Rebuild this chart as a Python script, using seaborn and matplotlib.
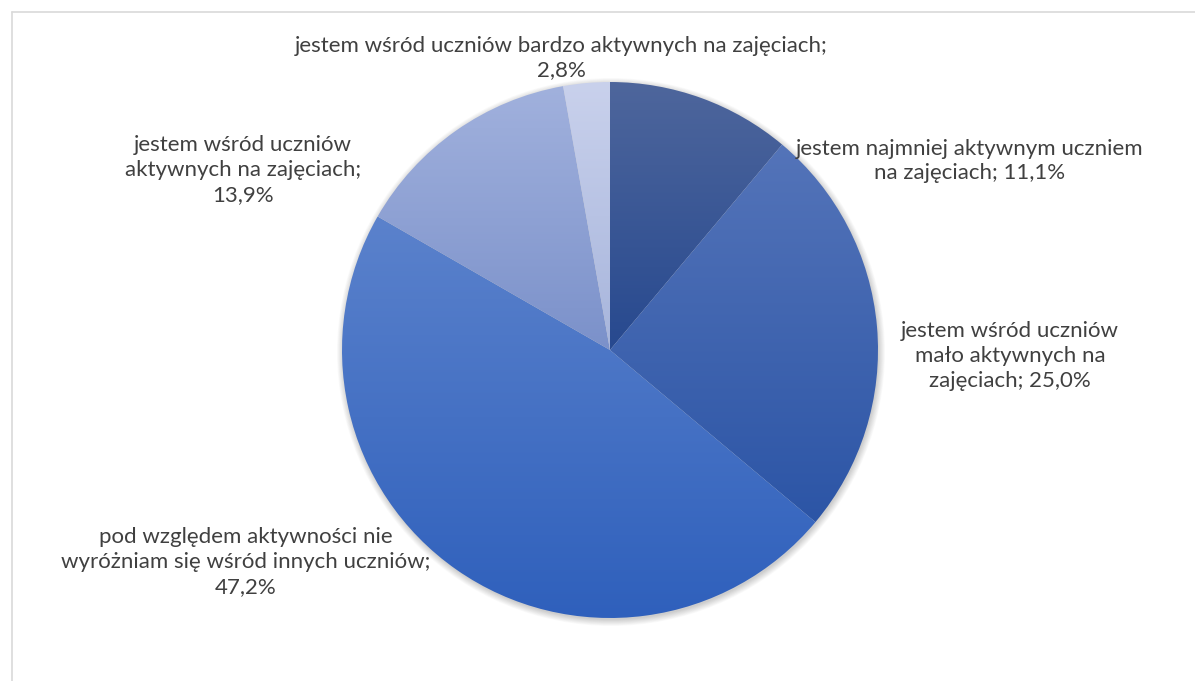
import numpy as np
import matplotlib
matplotlib.use("Agg")
import matplotlib.pyplot as plt
from matplotlib.colors import LinearSegmentedColormap
from matplotlib.patches import Circle
import seaborn as sns

# Survey answers: self-assessed activity in class
categories = [
    "jestem najmniej aktywnym uczniem\nna zajęciach;",
    "jestem wśród uczniów\nmało aktywnych na\nzajęciach;",
    "pod względem aktywności nie\nwyróżniam się wśród innych uczniów;",
    "jestem wśród uczniów\naktywnych na zajęciach;",
    "jestem wśród uczniów bardzo aktywnych na zajęciach;",
]
shares = [11.1, 25.0, 47.2, 13.9, 2.8]
value_sep = [" ", " ", "\n", "\n", "\n"]

# gradient colours for each slice (top, bottom)
slice_colors = [
    ("#4e669c", "#27498f"),
    ("#5474b9", "#2c55a6"),
    ("#5b82cc", "#2f60bc"),
    ("#a1b1dd", "#7b91ca"),
    ("#c9d1ec", "#a7b5dc"),
]

# label anchor points in pixel coordinates (x, y from top)
label_pos = [(970, 161), (1010, 356), (246, 562), (243, 170), (561, 58)]

sns.set_theme(style="white")
plt.rcParams["font.family"] = ["Lato", "DejaVu Sans"]

W, H = 1195, 681
fig = plt.figure(figsize=(W / 100, H / 100), dpi=100)
ax = fig.add_axes([0, 0, 1, 1])
ax.set_xlim(0, W)
ax.set_ylim(0, H)
ax.set_aspect("equal")
ax.axis("off")

cx, cy, r = 610, H - 350, 268

# soft shadow under the pie
for k in range(10):
    ax.add_patch(Circle((cx + 1, cy - 2), r + 6 - k * 0.7, color="#000000",
                        alpha=0.018, lw=0, zorder=1))

wedges, _ = ax.pie(shares, startangle=90, counterclock=False, radius=r,
                   center=(cx, cy), frame=True,
                   wedgeprops=dict(linewidth=0, edgecolor="none"))
ax.set_xlim(0, W)
ax.set_ylim(0, H)
ax.axis("off")

grad = np.linspace(0, 1, 256).reshape(-1, 1)
for w, (top, bottom) in zip(wedges, slice_colors):
    ext = w.get_path().get_extents()
    cmap = LinearSegmentedColormap.from_list("g", [bottom, top])
    w.set_facecolor("none")
    w.set_zorder(3)
    im = ax.imshow(grad, cmap=cmap, origin="lower", aspect="auto",
                   extent=[ext.x0, ext.x1, ext.y0, ext.y1], zorder=2,
                   interpolation="bilinear")
    im.set_clip_path(w)

ax.set_xlim(0, W)
ax.set_ylim(0, H)

for cat, val, sep, (x, y) in zip(categories, shares, value_sep, label_pos):
    txt = f"{cat}{sep}{val:.1f}%".replace(".", ",")
    ax.text(x, H - y, txt, ha="center", va="center", fontsize=16,
            color="#404040", linespacing=1.3, zorder=5)

# chart area border
fig.add_artist(plt.Line2D([11.5 / W, 11.5 / W], [0, 1 - 11.5 / H],
                          transform=fig.transFigure, color="#d9d9d9", lw=1.2))
fig.add_artist(plt.Line2D([11.5 / W, 1], [1 - 11.5 / H, 1 - 11.5 / H],
                          transform=fig.transFigure, color="#d9d9d9", lw=1.2))

fig.savefig("out.png", dpi=100, facecolor="white")
